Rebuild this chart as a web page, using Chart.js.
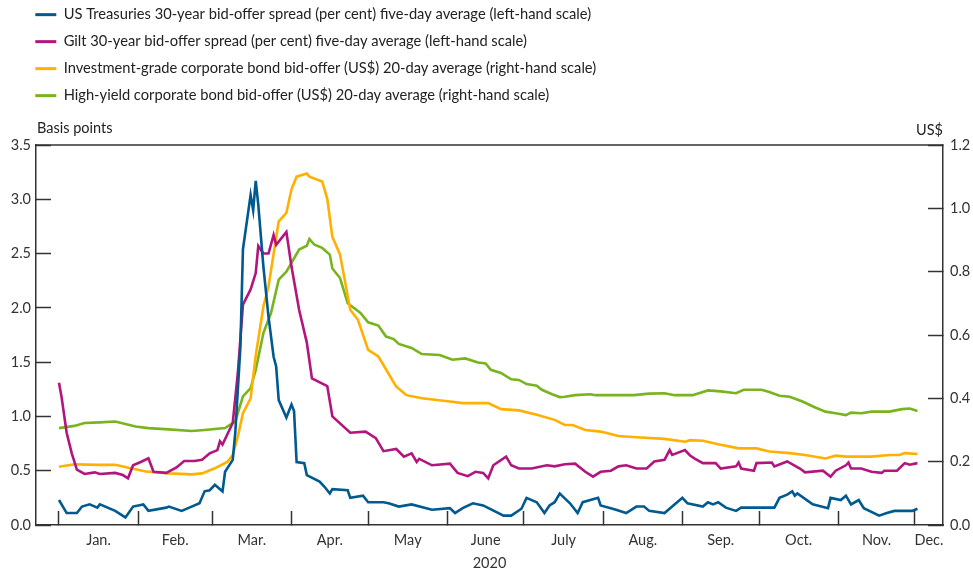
<!DOCTYPE html>
<html lang="en">
<head>
  <meta charset="UTF-8" />
  <title>Bid-offer spreads 2020</title>
  <script src="https://cdn.jsdelivr.net/npm/chart.js"></script>
  <style>
    html, body { margin: 0; padding: 0; background: #fff; }
  </style>
</head>
<body>
  <canvas id="spreadChart" width="973" height="570"></canvas>

  <script>
  // x values are days since 1 Jan 2020
  const monthStarts = [0, 31, 60, 91, 121, 152, 182, 213, 244, 274, 305, 335];
  const monthLabels = ['Jan.', 'Feb.', 'Mar.', 'Apr.', 'May', 'June', 'July', 'Aug.', 'Sep.', 'Oct.', 'Nov.', 'Dec.'];
  const dayMin = -9;
  const dayMax = 346;
  const yearLabel = '2020';

  const leftMax = 3.5, leftStep = 0.5;
  const rightMax = 1.2, rightStep = 0.2;

  const seriesNames = [
    'US Treasuries 30-year bid-offer spread (per cent) five-day average (left-hand scale)',
    'Gilt 30-year bid-offer spread (per cent) five-day average (left-hand scale)',
    'Investment-grade corporate bond bid-offer (US$) 20-day average (right-hand scale)',
    'High-yield corporate bond bid-offer (US$) 20-day average (right-hand scale)'
  ];

  // [day, value]
  const ustPoints = [
    [0,0.23],[3,0.11],[7,0.11],[9,0.17],[12,0.19],[15,0.16],[16,0.19],[22,0.13],[26,0.07],[29,0.17],
    [33,0.19],[35,0.13],[42,0.16],[43,0.17],[48,0.13],[51,0.16],[55,0.20],[57,0.31],[59,0.32],[61,0.37],
    [64,0.31],[65,0.49],[68,0.60],[69,0.85],[71,1.64],[72,2.54],[75,3.04],[76,2.90],[77,3.17],[78,2.95],
    [80,2.38],[82,1.92],[84,1.55],[85,1.46],[86,1.15],[89,0.99],[91,1.11],[92,1.05],[93,0.58],[96,0.57],
    [97,0.46],[102,0.40],[104,0.35],[106,0.29],[107,0.33],[113,0.32],[114,0.25],[119,0.27],[121,0.21],[127,0.21],
    [129,0.20],[133,0.17],[138,0.19],[146,0.14],[153,0.155],[155,0.11],[158,0.155],[162,0.20],[166,0.18],[174,0.086],
    [177,0.086],[181,0.15],[183,0.25],[187,0.21],[190,0.11],[192,0.18],[194,0.21],[196,0.29],[200,0.20],[203,0.11],
    [205,0.21],[211,0.25],[212,0.18],[216,0.155],[218,0.14],[222,0.11],[226,0.17],[229,0.17],[231,0.13],[237,0.11],
    [244,0.25],[246,0.20],[252,0.17],[254,0.21],[256,0.19],[258,0.21],[261,0.16],[265,0.13],[267,0.16],[280,0.16],
    [282,0.25],[285,0.28],[287,0.31],[288,0.27],[289,0.29],[295,0.19],[301,0.155],[302,0.25],[306,0.23],[308,0.27],
    [310,0.19],[313,0.23],[315,0.155],[321,0.086],[324,0.11],[327,0.13],[334,0.13],[336,0.15]
  ];

  const giltPoints = [
    [0,1.31],[1,1.18],[3,0.85],[5,0.66],[7,0.51],[10,0.47],[14,0.485],[16,0.47],[22,0.48],[25,0.46],
    [27,0.43],[29,0.55],[32,0.58],[35,0.615],[37,0.49],[42,0.48],[46,0.53],[49,0.59],[53,0.59],[56,0.60],
    [59,0.66],[62,0.69],[63,0.77],[64,0.74],[68,0.94],[70,1.40],[72,2.03],[75,2.17],[77,2.32],[78,2.57],
    [80,2.50],[82,2.50],[84,2.67],[85,2.58],[89,2.70],[91,2.38],[94,1.98],[97,1.68],[99,1.35],[105,1.28],
    [107,1.00],[114,0.85],[120,0.86],[124,0.80],[127,0.68],[132,0.70],[135,0.63],[138,0.66],[140,0.58],[141,0.61],
    [146,0.55],[153,0.565],[156,0.48],[160,0.45],[163,0.49],[166,0.48],[168,0.43],[170,0.55],[175,0.63],[177,0.55],
    [180,0.52],[185,0.52],[191,0.55],[194,0.54],[198,0.56],[202,0.565],[206,0.49],[209,0.445],[212,0.49],[216,0.50],
    [219,0.54],[222,0.55],[226,0.52],[230,0.52],[233,0.585],[237,0.60],[239,0.69],[240,0.645],[245,0.69],[247,0.64],
    [249,0.61],[252,0.57],[257,0.57],[259,0.52],[265,0.54],[266,0.575],[267,0.52],[272,0.50],[273,0.57],[279,0.575],
    [280,0.54],[285,0.585],[290,0.52],[292,0.485],[299,0.50],[302,0.445],[304,0.50],[308,0.55],[309,0.575],[310,0.52],
    [314,0.52],[318,0.49],[322,0.48],[323,0.50],[328,0.50],[331,0.57],[333,0.555],[336,0.57]
  ];

  const igPoints = [
    [0,0.184],[6,0.192],[15,0.19],[22,0.19],[28,0.179],[34,0.169],[43,0.163],[52,0.16],[56,0.163],[61,0.179],
    [66,0.20],[68,0.221],[70,0.28],[72,0.353],[75,0.40],[77,0.535],[80,0.69],[82,0.753],[86,0.959],[89,0.986],
    [91,1.06],[93,1.10],[97,1.11],[98,1.10],[103,1.085],[105,1.03],[107,0.91],[110,0.854],[114,0.68],[117,0.648],
    [121,0.553],[125,0.532],[132,0.437],[136,0.41],[142,0.40],[153,0.39],[158,0.385],[168,0.385],[173,0.366],[180,0.362],
    [187,0.348],[194,0.332],[198,0.316],[201,0.316],[206,0.30],[212,0.295],[219,0.281],[226,0.277],[237,0.272],[245,0.263],
    [247,0.268],[252,0.266],[258,0.255],[266,0.242],[273,0.242],[278,0.232],[286,0.227],[292,0.221],[300,0.21],[304,0.219],
    [308,0.216],[318,0.216],[325,0.221],[329,0.221],[331,0.227],[336,0.224]
  ];

  const hyPoints = [
    [0,0.306],[6,0.313],[10,0.322],[16,0.324],[22,0.327],[30,0.311],[35,0.306],[43,0.302],[52,0.297],[57,0.30],
    [65,0.306],[69,0.327],[72,0.406],[75,0.432],[77,0.49],[80,0.606],[83,0.67],[86,0.775],[89,0.80],[94,0.87],
    [97,0.882],[98,0.903],[100,0.885],[103,0.875],[106,0.854],[107,0.81],[110,0.78],[113,0.70],[118,0.67],[121,0.64],
    [125,0.63],[128,0.595],[131,0.587],[133,0.572],[138,0.559],[142,0.54],[149,0.537],[154,0.522],[159,0.526],[164,0.513],
    [167,0.51],[169,0.49],[173,0.48],[177,0.46],[180,0.458],[183,0.445],[187,0.44],[189,0.427],[193,0.413],[196,0.404],
    [198,0.405],[202,0.41],[208,0.413],[210,0.41],[219,0.41],[225,0.41],[231,0.415],[237,0.416],[241,0.41],[245,0.41],
    [248,0.41],[254,0.425],[259,0.422],[265,0.416],[268,0.427],[275,0.427],[278,0.42],[282,0.408],[286,0.405],[291,0.39],
    [296,0.371],[300,0.358],[304,0.353],[308,0.347],[310,0.355],[314,0.353],[318,0.358],[325,0.358],[330,0.366],[333,0.368],
    [336,0.36]
  ];

  const seriesColors = ['#005a8f', '#b2157d', '#ffb000', '#78b41e'];
  const axisColor = '#333333';
  const fontFamily = 'Lato, "Open Sans", sans-serif';

  // label positions: middle of each month (Dec runs to the end of the axis)
  const labelDays = monthStarts.map((d, i) => (d + (i < monthStarts.length - 1 ? monthStarts[i + 1] : dayMax)) / 2);

  const toXY = pts => pts.map(p => ({ x: p[0], y: p[1] }));

  function makeSet(i, pts, axis) {
    return {
      label: seriesNames[i],
      data: toXY(pts),
      yAxisID: axis,
      borderColor: seriesColors[i],
      backgroundColor: seriesColors[i],
      borderWidth: 2.6,
      pointRadius: 0,
      tension: 0,
      fill: false
    };
  }

  // axis unit labels and the top border of the plot box
  const frameText = {
    id: 'frameText',
    afterDraw(chart) {
      const { ctx, chartArea } = chart;
      ctx.save();
      ctx.strokeStyle = axisColor;
      ctx.lineWidth = 1.5;
      ctx.beginPath();
      ctx.moveTo(chartArea.left, chartArea.top);
      ctx.lineTo(chartArea.right, chartArea.top);
      ctx.stroke();
      ctx.fillStyle = '#222';
      ctx.font = '14.5px ' + fontFamily;
      ctx.textBaseline = 'middle';
      ctx.textAlign = 'left';
      ctx.fillText('Basis points', chartArea.left + 1, chartArea.top - 17);
      ctx.textAlign = 'right';
      ctx.fillText('US$', chartArea.right, chartArea.top - 15);
      ctx.restore();
    }
  };

  // fixed legend block above the plot, nudged to where the reference has it
  const legendPlace = {
    id: 'legendPlace',
    beforeInit(chart) {
      const fit = chart.legend.fit;
      chart.legend.fit = function () {
        fit.bind(chart.legend)();
        this.height = 145;
      };
    },
    afterLayout(chart) {
      chart.legend.left = 23;
      chart.legend.top = -5;
    }
  };

  const tickFont = { family: fontFamily, size: 14.5 };

  new Chart(document.getElementById('spreadChart'), {
    type: 'line',
    data: {
      datasets: [
        makeSet(0, ustPoints, 'yLeft'),
        makeSet(1, giltPoints, 'yLeft'),
        makeSet(2, igPoints, 'yRight'),
        makeSet(3, hyPoints, 'yRight')
      ]
    },
    options: {
      responsive: false,
      animation: false,
      layout: { padding: 0 },
      plugins: {
        tooltip: { enabled: false },
        legend: {
          position: 'top',
          align: 'start',
          labels: {
            color: '#222',
            font: { family: fontFamily, size: 14.7 },
            boxWidth: 21,
            boxHeight: 3,
            padding: 12.3,
            generateLabels(chart) {
              return Chart.defaults.plugins.legend.labels.generateLabels(chart)
                .map(l => ({ ...l, fillStyle: l.strokeStyle, lineWidth: 0 }));
            }
          }
        }
      },
      scales: {
        x: {
          type: 'linear',
          min: dayMin,
          max: dayMax,
          afterBuildTicks(scale) {
            const vals = monthStarts.concat(labelDays).sort((a, b) => a - b);
            scale.ticks = vals.map(v => ({ value: v }));
          },
          afterFit(scale) { scale.height = 45; },
          ticks: {
            autoSkip: false,
            maxRotation: 0,
            padding: 21,
            color: axisColor,
            font: tickFont,
            callback: v => {
              const i = labelDays.indexOf(v);
              return i >= 0 ? monthLabels[i] : '';
            }
          },
          grid: {
            drawOnChartArea: false,
            tickLength: -14,
            tickWidth: 1.5,
            tickColor: ctx => monthStarts.includes(ctx.tick && ctx.tick.value) ? axisColor : 'rgba(0,0,0,0)'
          },
          border: { display: true, color: axisColor, width: 1.5 },
          title: {
            display: true,
            text: yearLabel,
            color: axisColor,
            font: tickFont,
            padding: { top: 0, bottom: -2 }
          }
        },
        yLeft: {
          type: 'linear',
          position: 'left',
          min: 0,
          max: leftMax,
          afterFit(scale) { scale.width = 36; },
          ticks: {
            stepSize: leftStep,
            padding: 20,
            color: axisColor,
            font: tickFont,
            callback: v => v.toFixed(1)
          },
          grid: {
            drawOnChartArea: false,
            tickLength: -15,
            tickWidth: 1.5,
            tickColor: axisColor
          },
          border: { display: true, color: axisColor, width: 1.5 }
        },
        yRight: {
          type: 'linear',
          position: 'right',
          min: 0,
          max: rightMax,
          afterFit(scale) { scale.width = 30; },
          ticks: {
            stepSize: rightStep,
            padding: 22,
            color: axisColor,
            font: tickFont,
            callback: v => v.toFixed(1)
          },
          grid: {
            drawOnChartArea: false,
            tickLength: -15,
            tickWidth: 1.5,
            tickColor: axisColor
          },
          border: { display: true, color: axisColor, width: 1.5 }
        }
      }
    },
    plugins: [legendPlace, frameText]
  });
  </script>
</body>
</html>
